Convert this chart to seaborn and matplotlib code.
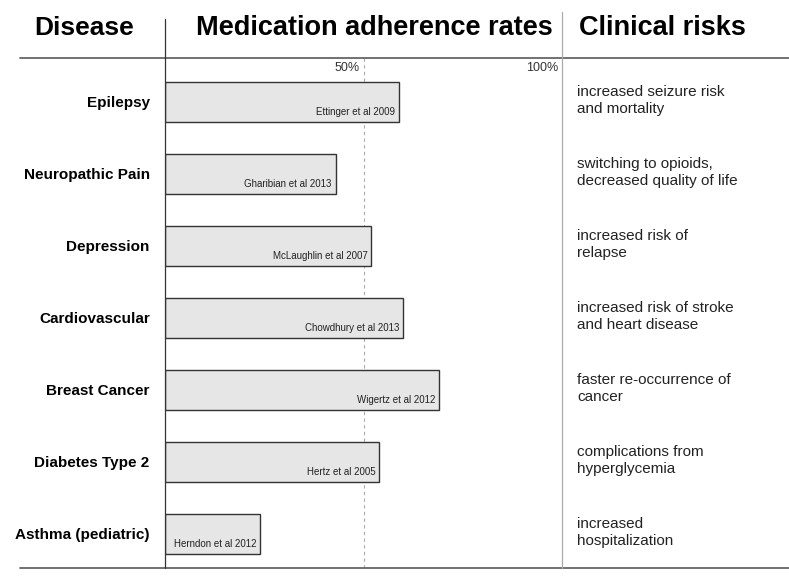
import numpy as np
import pandas as pd
import matplotlib.pyplot as plt
import seaborn as sns
from matplotlib.lines import Line2D

diseases = ['Epilepsy', 'Neuropathic Pain', 'Depression', 'Cardiovascular',
            'Breast Cancer', 'Diabetes Type 2', 'Asthma (pediatric)']
rates = [59, 43, 52, 60, 69, 54, 24]
studies = ['Ettinger et al 2009', 'Gharibian et al 2013', 'McLaughlin et al 2007',
           'Chowdhury et al 2013', 'Wigertz et al 2012', 'Hertz et al 2005',
           'Herndon et al 2012']
risks = ['increased seizure risk\nand mortality',
         'switching to opioids,\ndecreased quality of life',
         'increased risk of\nrelapse',
         'increased risk of stroke\nand heart disease',
         'faster re-occurrence of\ncancer',
         'complications from\nhyperglycemia',
         'increased\nhospitalization']
pct_ticks = [50, 100]

df = pd.DataFrame({'disease': diseases, 'rate': rates})

sns.set_style("white")
plt.rcParams['font.family'] = ['Liberation Sans', 'DejaVu Sans']
plt.rcParams['text.color'] = 'black'

fig = plt.figure(figsize=(7.89, 5.81), dpi=100)
W, H = 789, 581
ax = fig.add_axes([165 / W, 13 / H, 397 / W, 510 / H])

sns.barplot(data=df, x='rate', y='disease', orient='h', color='#e6e6e6',
            edgecolor='#333333', linewidth=1, width=0.556, saturation=1,
            zorder=3, ax=ax)

ax.set_xlim(0, 100)
ax.set_ylim(6.476, -0.607)
ax.axvline(50, ls=(0, (3, 3)), color='#aaaaaa', lw=0.8, zorder=1)

for s in ax.spines.values():
    s.set_visible(False)
ax.set_xticks([])
ax.set_xlabel('')
ax.set_ylabel('')
ax.tick_params(axis='y', length=0, pad=11)
for lab in ax.get_yticklabels():
    lab.set_fontweight('bold')
    lab.set_fontsize(11)
    lab.set_color('black')

# percent labels at top
for p in pct_ticks:
    ax.text(p - 1, 0.98, f'{p}%', transform=ax.get_xaxis_transform(),
            ha='right', va='center', fontsize=9, color='#333333')

# study citations inside bars
for i, (r, s) in enumerate(zip(rates, studies)):
    ax.text(r - 1, i + 0.14, s, ha='right', va='center', fontsize=7,
            color='#222222', zorder=4)

# clinical risks column
for i, t in enumerate(risks):
    ax.text(103.8, i - 0.02, t, ha='left', va='center', fontsize=11,
            color='#222222', linespacing=1.25, clip_on=False)

# headers
hy = 1 - 28 / H
fig.text(84 / W, hy, 'Disease', ha='center', va='center', fontsize=19, fontweight='bold')
fig.text(374 / W, hy, 'Medication adherence rates', ha='center', va='center',
         fontsize=19.5, fontweight='bold')
fig.text(662 / W, hy, 'Clinical risks', ha='center', va='center',
         fontsize=19.5, fontweight='bold')

# table rules
fig.add_artist(Line2D([20 / W, 1], [1 - 58 / H] * 2, color='#666666', lw=1.3))
fig.add_artist(Line2D([20 / W, 1], [1 - 568 / H] * 2, color='#666666', lw=1.3))
fig.add_artist(Line2D([165 / W] * 2, [1 - 19 / H, 1 - 568 / H], color='#333333', lw=0.9))
fig.add_artist(Line2D([562 / W] * 2, [1 - 12 / H, 1 - 568 / H], color='#aaaaaa', lw=0.9))

plt.savefig('out.png', dpi=100)
